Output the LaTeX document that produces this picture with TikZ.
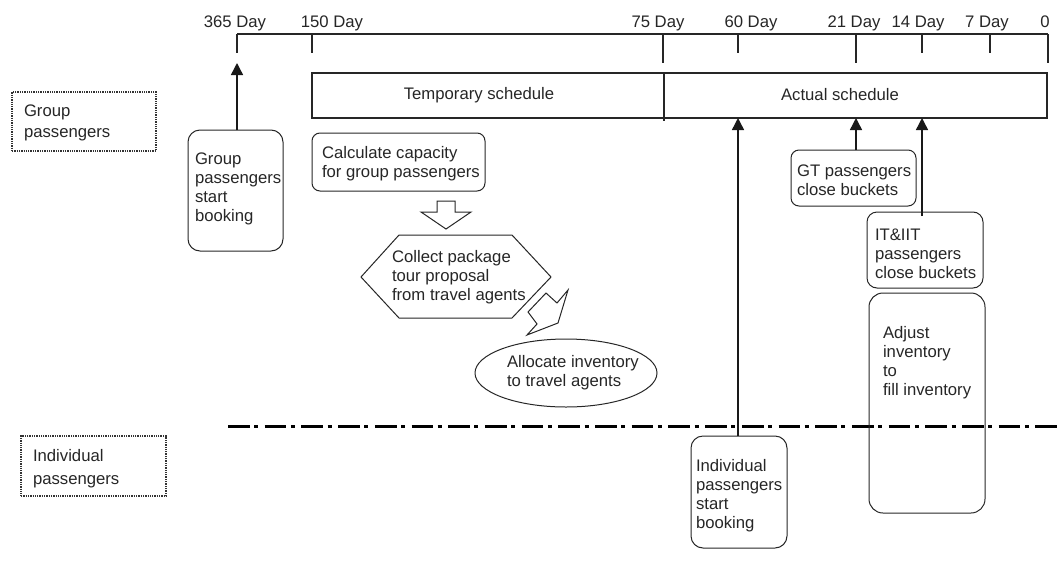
\documentclass[tikz,border=0pt]{standalone}
\usepackage{fontspec}
\setmainfont{Liberation Sans}
\usetikzlibrary{arrows.meta,shapes.geometric}
\begin{document}
\begin{tikzpicture}[x=1pt,y=-1pt,
  every node/.style={inner sep=0pt, outer sep=0pt, text=black!85},
  lbl/.style={font=\fontsize{16.7}{19}\selectfont, align=left, anchor=west},
  daylbl/.style={font=\fontsize{16.7}{19}\selectfont, anchor=base},
  card/.style={draw=black!85, line width=1pt, rounded corners=#1},
  card/.default=9pt,
  lane/.style={draw=black!80, densely dotted, line width=1.3pt},
  axis/.style={draw=black!85, line width=1.3pt},
  frame/.style={draw=black!85, line width=1.1pt},
  upto/.style={draw=black!90, line width=1.4pt, -{Triangle[width=12pt,length=12pt]}},
  hollow/.style={draw=black!85, line width=1pt, fill=white},
  divider/.style={draw=black, line width=3pt, dash pattern=on 21.7pt off 4.5pt on 4pt off 6.5pt}
]
\useasboundingbox (0,0) rectangle (1060,560);

% time axis with its tick marks
\coordinate (t365) at (237,34);
\coordinate (t150) at (312,34);
\coordinate (t75)  at (663,34);
\coordinate (t60)  at (738,34);
\coordinate (t21)  at (856,34);
\coordinate (t14)  at (922,34);
\coordinate (t7)   at (990,34);
\coordinate (t0)   at (1048,34);
\draw[axis] (t365) -- (t0);
\foreach \t in {t365,t150,t60,t14,t7} \draw[axis] (\t) -- ++(0,19);
\foreach \t in {t75,t21,t0} \draw[axis] (\t) -- ++(0,29);

\node[daylbl] (d365) at (235,27)  {365 Day};
\node[daylbl] (d150) at (332,27)  {150 Day};
\node[daylbl] (d75)  at (658,27)  {75 Day};
\node[daylbl] (d60)  at (751,27)  {60 Day};
\node[daylbl] (d21)  at (854,27)  {21 Day};
\node[daylbl] (d14)  at (918,27)  {14 Day};
\node[daylbl] (d7)   at (987,27)  {7 Day};
\node[daylbl] (d0)   at (1045,27) {0};

% schedule bar
\node[frame, minimum width=735pt, minimum height=45pt] (sched) at (679.5,95.5) {};
\draw[frame] (664,73) -- (664,121);
\node[daylbl] (temp) at (479,99.5) {Temporary schedule};
\node[daylbl] (act)  at (840,100)  {Actual schedule};

% lane labels
\node[lane, minimum width=144pt, minimum height=59pt] (laneG) at (84,121.5) {};
\node[lbl, font=\fontsize{16.7}{21}\selectfont] (laneGt) at (24,122.5) {Group\\passengers};
\node[lane, minimum width=145pt, minimum height=60pt] (laneI) at (93.5,466) {};
\node[lbl, font=\fontsize{16.7}{23}\selectfont] (laneIt) at (33,468.5) {Individual\\passengers};

% lane separator
\coordinate (sepL) at (228,426);
\coordinate (sepR) at (1060,426);
\draw[divider] (sepL) -- (sepR);

% group booking start
\node[card=12pt, minimum width=95pt, minimum height=121pt] (gsb) at (235.5,190.5) {};
\node[lbl] (gsbt) at (195,189) {Group\\passengers\\start\\booking};
\coordinate (gsbtip) at (237,63);
\draw[upto] (gsb.north -| gsbtip) -- (gsbtip);

% capacity for group passengers
\node[card=8pt, minimum width=173pt, minimum height=58pt] (calc) at (398.5,162) {};
\node[lbl] (calct) at (322,164) {Calculate capacity\\for group passengers};

% hollow arrow down to the proposal step
\draw[hollow] (437,201) -- (455,201) -- (455,212) -- (471,212) -- (446,229)
  -- (421,212) -- (437,212) -- cycle;

% package tour proposal (hexagon)
\draw[hollow] (361,277) -- (399,235) -- (512,235) -- (551,277) -- (512,318)
  -- (399,318) -- cycle;
\node[lbl] (hext) at (392,277.5) {Collect package\\tour proposal\\from travel agents};

% hollow bent arrow towards the allocation step
\draw[hollow] (568,290) -- (558,323) -- (527,335) -- (537,324) -- (528,312)
  -- (546,293) -- (557,303) -- cycle;

% inventory allocation
\node[draw=black!85, line width=1pt, ellipse, minimum width=182pt, minimum height=68pt] (alloc) at (566,373) {};
\node[lbl] (alloct) at (507,372.5) {Allocate inventory\\to travel agents};

% GT bucket closing
\node[card=8pt, minimum width=125pt, minimum height=56pt] (gt) at (853.5,178) {};
\node[lbl] (gtt) at (797,180.5) {GT passengers\\close buckets};
\draw[upto] (gt.north -| t21) -- (sched.south -| t21);

% IT & IIT bucket closing
\node[card=10pt, minimum width=116pt, minimum height=76pt] (it) at (925,250) {};
\node[lbl] (itt) at (875,254) {IT\&IIT\\passengers\\close buckets};
\draw[upto] ([yshift=-4pt]it.north -| t14) -- (sched.south -| t14);

% inventory adjustment
\node[card=14pt, minimum width=116pt, minimum height=220pt] (adj) at (927,403) {};
\node[lbl] (adjt) at (883,362.7) {Adjust\\inventory\\to\\fill inventory};

% individual booking start
\node[card=12pt, minimum width=96pt, minimum height=112pt] (isb) at (739,492) {};
\node[lbl] (isbt) at (696,495.3) {Individual\\passengers\\start\\booking};
\draw[upto] (isb.north -| t60) -- (sched.south -| t60);
\end{tikzpicture}
\end{document}
